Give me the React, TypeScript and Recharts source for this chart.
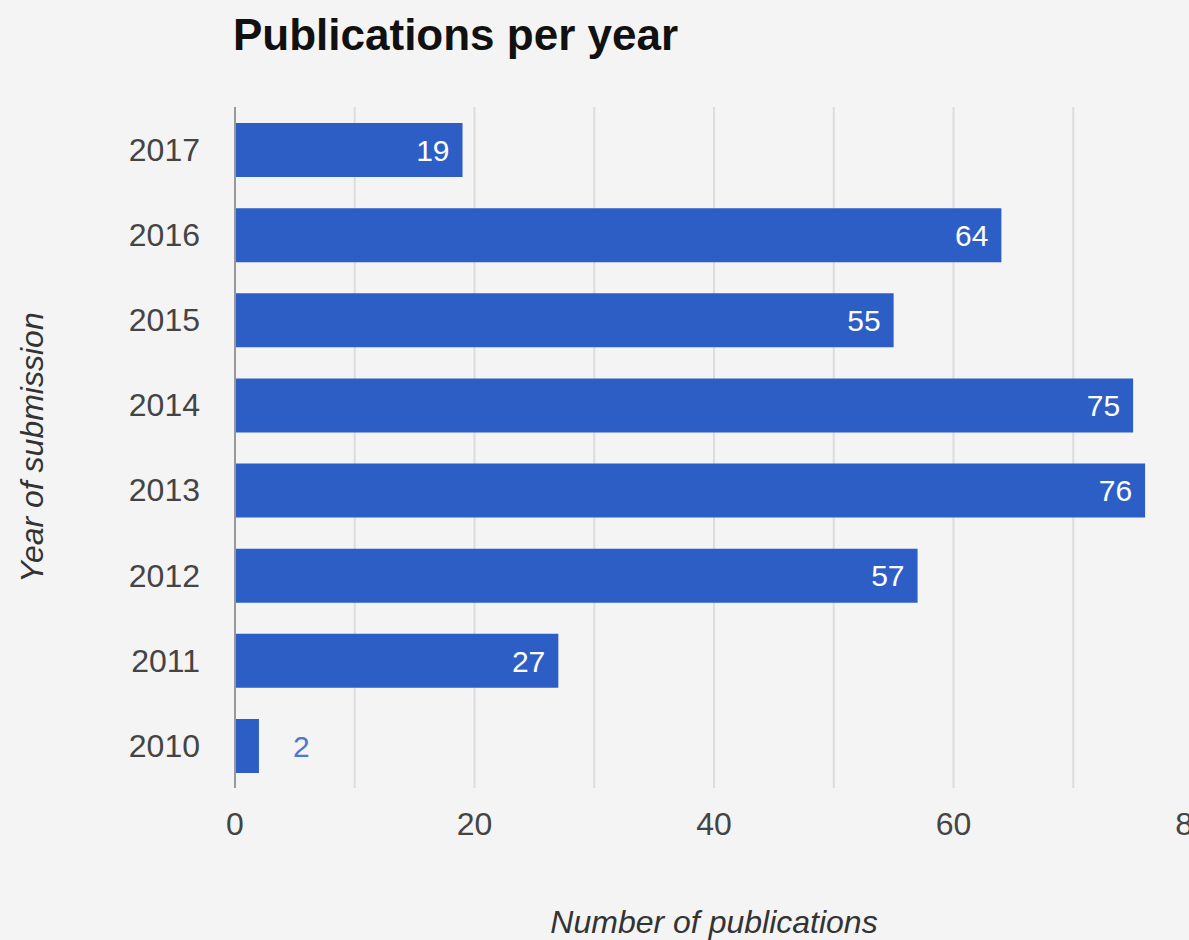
import { BarChart, Bar, XAxis, YAxis, CartesianGrid, LabelList } from "recharts"

const years = ["2017", "2016", "2015", "2014", "2013", "2012", "2011", "2010"]
const publications = [19, 64, 55, 75, 76, 57, 27, 2]
const xTicks = [0, 10, 20, 30, 40, 50, 60, 70, 80]

const data = years.map((year, i) => ({ year, count: publications[i] }))

const BLUE = "#2d5ec6"
const FONT = "'Liberation Sans', Arial, sans-serif"

const BarValue = (props: any) => {
  const { x, y, width, height, value } = props
  const cy = y + height / 2
  if (width > 60) {
    return (
      <text x={x + width - 13} y={cy} dy="0.36em" textAnchor="end" fill="#fff" fontSize={30} fontFamily={FONT}>
        {value}
      </text>
    )
  }
  return (
    <text x={x + width + 34} y={cy} dy="0.36em" textAnchor="start" fill="#4a78d4" fontSize={30} fontFamily={FONT}>
      {value}
    </text>
  )
}

const YTitle = (props: any) => {
  const vb = props.viewBox || {}
  const cy = vb.y + vb.height / 2
  return (
    <text
      x={43}
      y={cy}
      transform={`rotate(-90 43 ${cy})`}
      textAnchor="middle"
      fill="#333"
      fontSize={32}
      fontStyle="italic"
      fontFamily={FONT}
    >
      Year of submission
    </text>
  )
}

const XTitle = (props: any) => {
  const vb = props.viewBox || {}
  return (
    <text x={vb.x + vb.width / 2} y={933} textAnchor="middle" fill="#333" fontSize={32} fontStyle="italic" fontFamily={FONT}>
      Number of publications
    </text>
  )
}

export default function App() {
  return (
    <div
      style={{
        position: "fixed",
        left: 0,
        top: 0,
        width: 1189,
        height: 940,
        overflow: "hidden",
        background: "#f4f4f4",
      }}
    >
      <div
        style={{
          position: "absolute",
          left: 233,
          top: 13,
          fontFamily: FONT,
          fontWeight: "bold",
          fontSize: 44,
          lineHeight: 1,
          color: "#111",
          whiteSpace: "nowrap",
        }}
      >
        Publications per year
      </div>
      <BarChart
        width={1260}
        height={940}
        data={data}
        layout="vertical"
        margin={{ top: 107, right: 67, left: 0, bottom: 0 }}
        barSize={54}
      >
        <CartesianGrid horizontal={false} stroke="#dcdcdc" strokeWidth={2} />
        <XAxis
          type="number"
          domain={[0, 80]}
          ticks={xTicks}
          tickFormatter={(v: number) => (v % 20 === 0 ? String(v) : "")}
          axisLine={false}
          tickLine={false}
          tickSize={0}
          tickMargin={24}
          height={152}
          tick={{ fill: "#444", fontSize: 32, fontFamily: FONT }}
          label={<XTitle />}
        />
        <YAxis
          type="category"
          dataKey="year"
          width={235}
          axisLine={{ stroke: "#999", strokeWidth: 2 }}
          tickLine={false}
          tickSize={0}
          tickMargin={35}
          tick={{ fill: "#444", fontSize: 32, fontFamily: FONT }}
          label={<YTitle />}
        />
        <Bar dataKey="count" fill={BLUE} isAnimationActive={false}>
          <LabelList dataKey="count" content={<BarValue />} />
        </Bar>
      </BarChart>
    </div>
  )
}
